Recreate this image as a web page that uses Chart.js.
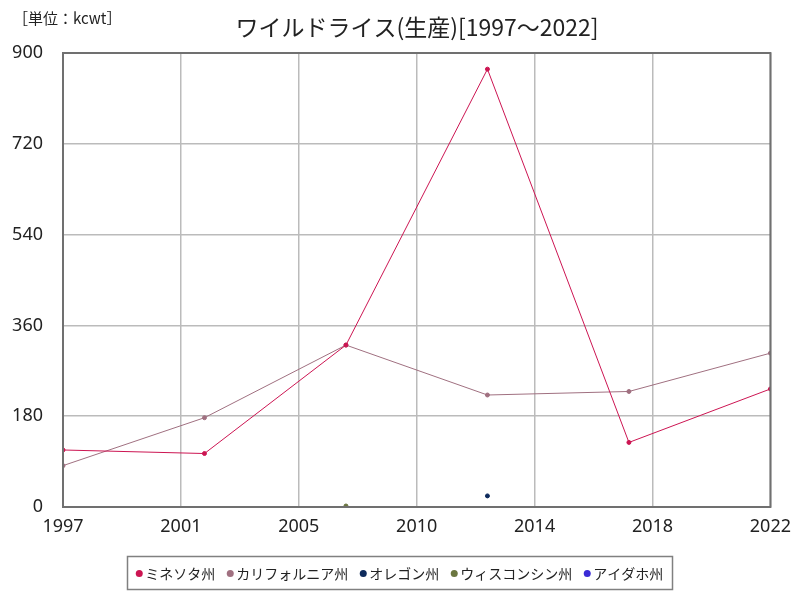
<!DOCTYPE html>
<html><head><meta charset="utf-8">
<script src="https://cdn.jsdelivr.net/npm/chart.js@4"></script>
<style>html,body{margin:0;padding:0;background:#fff}#wrap{width:800px;height:600px;position:relative}</style>
</head><body><div id="wrap"><canvas id="cv" width="800" height="600"></canvas></div>
<script>
const titleText = 'ワイルドライス(生産)[1997～2022]';
const unitText = '［単位：kcwt］';
const years = [1997, 2002, 2007, 2012, 2017, 2022];
const minnesota = [113, 106, 321, 868, 128, 234];
const california = [82, 177, 321, 222, 229, 305];
const oregon = [null, null, null, 22, null, null];
const wisconsin = [null, null, 2, null, null, null];
const idaho = [null, null, null, null, null, null];
const seriesNames = ['ミネソタ州', 'カリフォルニア州', 'オレゴン州', 'ウィスコンシン州', 'アイダホ州'];
const xTickLabels = [1997, 2001, 2005, 2010, 2014, 2018, 2022];
const yTickValues = [0, 180, 360, 540, 720, 900];

const colors = ['#cc1552', '#a07080', '#0d2a5c', '#6b7640', '#3a2bd6'];
const tickFont = "'Noto Sans',sans-serif";
const jpFont = "'Noto Sans CJK JP','Noto Sans',sans-serif";

function mk(arr){ return years.map((y,i)=>({x:y, y:arr[i]})).filter(p=>p.y!==null); }
const allData = [minnesota, california, oregon, wisconsin, idaho];

const deco = {
  id:'deco',
  afterDraw(chart){
    const ctx = chart.ctx, a = chart.chartArea;
    ctx.save();
    ctx.strokeStyle = '#707070'; ctx.lineWidth = 2;
    ctx.strokeRect(a.left, a.top, a.right-a.left, a.bottom-a.top);
    // title
    ctx.fillStyle = '#222';
    ctx.font = "23px " + jpFont;
    ctx.textAlign = 'center'; ctx.textBaseline = 'middle';
    ctx.fillText(titleText, 417, 27);
    ctx.font = "15px " + jpFont;
    ctx.textAlign = 'left';
    ctx.fillText(unitText, 13, 18);
    // legend
    ctx.font = "14px " + jpFont;
    const bx = 127, by = 556, bw = 545, bh = 33;
    ctx.strokeStyle = '#808080'; ctx.lineWidth = 1.5;
    ctx.strokeRect(bx+0.5, by+0.5, bw, bh);
    const r = 3.5, dotToText = 6, textToDot = 15;
    let widths = seriesNames.map(n => ctx.measureText(n).width);
    let total = widths.reduce((s,w)=>s+w,0) + seriesNames.length*dotToText + (seriesNames.length-1)*textToDot + r;
    let x = bx + (bw - total)/2 + r;
    const cy = by + bh/2 + 1;
    seriesNames.forEach((n,i)=>{
      ctx.fillStyle = colors[i];
      ctx.beginPath(); ctx.arc(x, cy, r, 0, Math.PI*2); ctx.fill();
      ctx.fillStyle = '#222';
      ctx.textBaseline = 'middle';
      ctx.fillText(n, x + dotToText, cy);
      x += dotToText + widths[i] + textToDot;
    });
    ctx.restore();
  }
};

new Chart(document.getElementById('cv'), {
  type: 'line',
  data: {
    datasets: allData.map((arr,i)=>({
      label: seriesNames[i],
      data: mk(arr),
      borderColor: colors[i],
      backgroundColor: colors[i],
      borderWidth: 1,
      pointRadius: 2,
      pointHoverRadius: 2,
      tension: 0,
      spanGaps: false
    }))
  },
  options: {
    responsive: false,
    animation: false,
    layout: { padding: { left: 0, right: 29, top: 53, bottom: 0 } },
    plugins: { legend: { display: false }, title: { display: false }, tooltip: { enabled: false } },
    scales: {
      x: {
        type: 'linear', min: 1997, max: 2022,
        afterBuildTicks(axis){ axis.ticks = xTickLabels.map((v,i)=>({value: 1997 + i*25/6})); },
        afterFit(s){ s.height = 93; },
        ticks: { callback:(v,i)=>String(xTickLabels[i]), color:'#222', font:{family:tickFont, size:18}, padding: 9, maxRotation:0, autoSkip:false },
        grid: { color:'#bbbbbb', lineWidth:1.5, drawTicks:false },
        border: { display:false }
      },
      y: {
        type: 'linear', min: 0, max: 900,
        afterBuildTicks(axis){ axis.ticks = yTickValues.map(v=>({value:v})); },
        afterFit(s){ s.width = 63; },
        ticks: { color:'#222', font:{family:tickFont, size:18}, padding: 20, autoSkip:false },
        grid: { color:'#bbbbbb', lineWidth:1.5, drawTicks:false },
        border: { display:false }
      }
    }
  },
  plugins: [deco]
});
</script></body></html>
